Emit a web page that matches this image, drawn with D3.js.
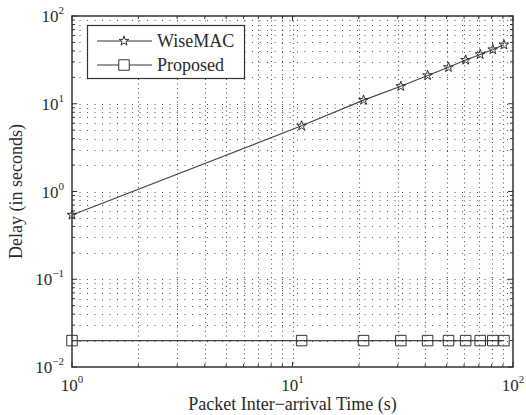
<!DOCTYPE html>
<html>
<head>
<meta charset="utf-8">
<script src="https://cdn.jsdelivr.net/npm/d3@7"></script>
<style>
  body { margin: 0; background: #fff; }
  text { font-family: "Liberation Serif", "DejaVu Serif", serif; fill: #2a2a2a; }
</style>
</head>
<body>
<svg id="chart" width="526" height="415"></svg>
<script>
const arrivalTimes = [1, 11, 21, 31, 41, 51, 61, 71, 81, 91];
const wisemacDelay = [0.54, 5.6, 11, 15.8, 21, 26, 31.5, 36.5, 41.5, 47];
const proposedDelay = [0.02, 0.02, 0.02, 0.02, 0.02, 0.02, 0.02, 0.02, 0.02, 0.02];
const xTickExp = [0, 1, 2];
const yTickExp = [-2, -1, 0, 1, 2];

const svg = d3.select("#chart");
const pLeft = 72, pRight = 513, pTop = 16, pBottom = 367;

const x = d3.scaleLog().domain([1, 100]).range([pLeft, pRight]);
const y = d3.scaleLog().domain([0.01, 100]).range([pBottom, pTop]);

// grid, major + minor, dotted
const minorX = [];
for (let e = 0; e < 2; e++) for (let k = 1; k < 10; k++) minorX.push(k * Math.pow(10, e));
minorX.push(100);
const minorY = [];
for (let e = -2; e < 2; e++) for (let k = 1; k < 10; k++) minorY.push(k * Math.pow(10, e));
minorY.push(100);
const isMajor = d => Math.abs(Math.log10(d) - Math.round(Math.log10(d))) < 1e-9;

const grid = svg.append("g").attr("stroke", "#555").attr("stroke-width", 1.1);
grid.selectAll(".gx").data(minorX.slice(1, -1)).enter().append("line")
  .attr("x1", d => Math.round(x(d)) + 0.5).attr("x2", d => Math.round(x(d)) + 0.5)
  .attr("y1", pTop).attr("y2", pBottom).attr("stroke-dasharray", "1,3.5");
grid.selectAll(".gy").data(minorY.slice(1, -1)).enter().append("line")
  .attr("y1", d => Math.round(y(d)) + 0.5).attr("y2", d => Math.round(y(d)) + 0.5)
  .attr("x1", pLeft).attr("x2", pRight).attr("stroke-dasharray", "1,6.5");

// axes box
svg.append("rect").attr("x", pLeft).attr("y", pTop)
  .attr("width", pRight - pLeft).attr("height", pBottom - pTop)
  .attr("fill", "none").attr("stroke", "#333").attr("stroke-width", 1.5);

// ticks on all sides
const tk = svg.append("g").attr("stroke", "#333").attr("stroke-width", 1);
minorX.forEach(d => {
  const len = isMajor(d) ? 5 : 3;
  tk.append("line").attr("x1", x(d)).attr("x2", x(d)).attr("y1", pBottom).attr("y2", pBottom - len);
  tk.append("line").attr("x1", x(d)).attr("x2", x(d)).attr("y1", pTop).attr("y2", pTop + len);
});
minorY.forEach(d => {
  const len = isMajor(d) ? 5 : 3;
  tk.append("line").attr("y1", y(d)).attr("y2", y(d)).attr("x1", pLeft).attr("x2", pLeft + len);
  tk.append("line").attr("y1", y(d)).attr("y2", y(d)).attr("x1", pRight).attr("x2", pRight - len);
});

// tick labels
xTickExp.forEach(e => {
  const t = svg.append("text").attr("x", x(Math.pow(10, e))).attr("y", 391)
    .attr("text-anchor", "middle").style("font-size", "17px");
  t.append("tspan").text("10");
  t.append("tspan").attr("dy", -8).style("font-size", "11px").text(e);
});
yTickExp.forEach(e => {
  const t = svg.append("text").attr("x", 64).attr("y", y(Math.pow(10, e)) + 6)
    .attr("text-anchor", "end").style("font-size", "17px");
  t.append("tspan").text("10");
  t.append("tspan").attr("dy", -8).style("font-size", "11px").text(e < 0 ? "\u2212" + Math.abs(e) : e);
});

// axis titles
svg.append("text").attr("x", (pLeft + pRight) / 2).attr("y", 410)
  .attr("text-anchor", "middle").style("font-size", "18px")
  .text("Packet Inter\u2212arrival Time (s)");
svg.append("text").attr("transform", `translate(22, ${(pTop + pBottom) / 2}) rotate(-90)`)
  .attr("text-anchor", "middle").style("font-size", "18px")
  .text("Delay (in seconds)");

// series
const line = d3.line().x(d => x(d[0])).y(d => y(d[1]));
const star = d3.symbol().type(d3.symbolStar).size(30);
const square = d3.symbol().type(d3.symbolSquare).size(110);

const series = [
  { name: "WiseMAC", values: wisemacDelay, sym: star },
  { name: "Proposed", values: proposedDelay, sym: square }
];

series.forEach(s => {
  const pts = arrivalTimes.map((t, i) => [t, s.values[i]]);
  svg.append("path").datum(pts).attr("d", line)
    .attr("fill", "none").attr("stroke", "#444").attr("stroke-width", 1.1);
  svg.selectAll(null).data(pts).enter().append("path")
    .attr("transform", d => `translate(${x(d[0])},${y(d[1])})`)
    .attr("d", s.sym()).attr("fill", "none").attr("stroke", "#333").attr("stroke-width", 1);
});

// legend
const lg = svg.append("g");
lg.append("rect").attr("x", 87.5).attr("y", 25.5).attr("width", 157).attr("height", 53)
  .attr("fill", "#fff").attr("stroke", "#333").attr("stroke-width", 1.2);
series.forEach((s, i) => {
  const ly = 41 + i * 24;
  lg.append("line").attr("x1", 97).attr("x2", 152).attr("y1", ly).attr("y2", ly)
    .attr("stroke", "#333").attr("stroke-width", 1.2);
  lg.append("path").attr("transform", `translate(124,${ly})`).attr("d", s.sym())
    .attr("fill", "#fff").attr("stroke", "#333").attr("stroke-width", 1);
  lg.append("text").attr("x", 157).attr("y", ly + 6).style("font-size", "18px").text(s.name);
});
</script>
</body>
</html>
